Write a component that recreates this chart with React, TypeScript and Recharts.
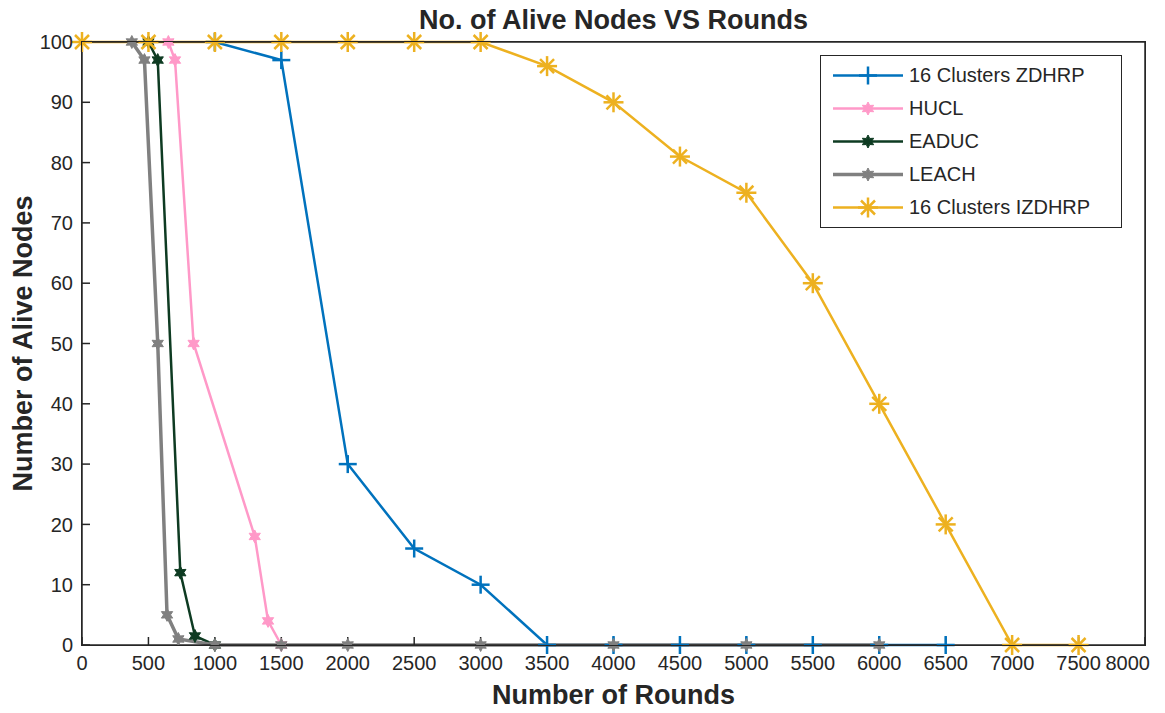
import React from "react";
import { LineChart, Line, XAxis, YAxis, Label } from "recharts";

const FONT = '"Liberation Sans", Arial, Helvetica, sans-serif';
const INK = "#262626";

// x axis (rounds) and y axis (alive nodes) ticks
const ROUND_TICKS = [0, 500, 1000, 1500, 2000, 2500, 3000, 3500, 4000, 4500, 5000, 5500, 6000, 6500, 7000, 7500, 8000];
const ALIVE_TICKS = [0, 10, 20, 30, 40, 50, 60, 70, 80, 90, 100];

// 16 Clusters ZDHRP
const ZDHRP_ROUNDS = [1000, 1500, 2000, 2500, 3000, 3500, 4000, 4500, 5000, 5500, 6000, 6500];
const ZDHRP_ALIVE = [100, 97, 30, 16, 10, 0, 0, 0, 0, 0, 0, 0];

// HUCL
const HUCL_ROUNDS = [650, 700, 840, 1300, 1400, 1500];
const HUCL_ALIVE = [100, 97, 50, 18, 4, 0];

// EADUC
const EADUC_ROUNDS = [500, 570, 740, 850, 1000];
const EADUC_ALIVE = [100, 97, 12, 1.5, 0];

// LEACH
const LEACH_ROUNDS = [375, 470, 570, 640, 725, 1000, 1500, 2000, 3000, 4000, 5000, 6000];
const LEACH_ALIVE = [100, 97, 50, 5, 1, 0, 0, 0, 0, 0, 0, 0];

// 16 Clusters IZDHRP
const IZDHRP_ROUNDS = [0, 500, 1000, 1500, 2000, 2500, 3000, 3500, 4000, 4500, 5000, 5500, 6000, 6500, 7000, 7500];
const IZDHRP_ALIVE = [100, 100, 100, 100, 100, 100, 100, 96, 90, 81, 75, 60, 40, 20, 0, 0];

type MarkerKind = "plus" | "hexagram" | "asterisk";

const toPoints = (rounds: number[], alive: number[]) =>
  rounds.map((r, i) => ({ rounds: r, alive: alive[i] }));

const SERIES = [
  { name: "16 Clusters ZDHRP", color: "#0072BD", width: 2.5, marker: "plus" as MarkerKind, data: toPoints(ZDHRP_ROUNDS, ZDHRP_ALIVE) },
  { name: "HUCL", color: "#FF99C8", width: 2.5, marker: "hexagram" as MarkerKind, data: toPoints(HUCL_ROUNDS, HUCL_ALIVE) },
  { name: "EADUC", color: "#0E3B22", width: 2.5, marker: "hexagram" as MarkerKind, data: toPoints(EADUC_ROUNDS, EADUC_ALIVE) },
  { name: "LEACH", color: "#808080", width: 3.5, marker: "hexagram" as MarkerKind, data: toPoints(LEACH_ROUNDS, LEACH_ALIVE) },
  { name: "16 Clusters IZDHRP", color: "#EDB120", width: 2.5, marker: "asterisk" as MarkerKind, data: toPoints(IZDHRP_ROUNDS, IZDHRP_ALIVE) },
];

// chart frame sizes (the wrapper is pulled up over the body margin)
const CHART_W = 1157;
const CHART_H = 713;
const Y_AXIS_W = 74;
const RIGHT_W = 12;
const RIGHT_PAD = 8;
const TOP_H = 42;
const BOTTOM_H = 68;

function hexagramPath(cx: number, cy: number, outer: number, inner: number) {
  const pts: string[] = [];
  for (let i = 0; i < 12; i++) {
    const a = ((-90 + i * 30) * Math.PI) / 180;
    const r = i % 2 === 0 ? outer : inner;
    pts.push(`${(cx + r * Math.cos(a)).toFixed(2)},${(cy + r * Math.sin(a)).toFixed(2)}`);
  }
  return `M${pts.join("L")}Z`;
}

function Marker({ kind, color, cx, cy }: { kind: MarkerKind; color: string; cx: number; cy: number }) {
  if (cx == null || cy == null) return null;
  if (kind === "plus") {
    return (
      <g stroke={color} strokeWidth={2.5}>
        <line x1={cx - 9} y1={cy} x2={cx + 9} y2={cy} />
        <line x1={cx} y1={cy - 9} x2={cx} y2={cy + 9} />
      </g>
    );
  }
  if (kind === "asterisk") {
    return (
      <g stroke={color} strokeWidth={2.5}>
        <line x1={cx - 10} y1={cy} x2={cx + 10} y2={cy} />
        <line x1={cx} y1={cy - 10} x2={cx} y2={cy + 10} />
        <line x1={cx - 7} y1={cy - 7} x2={cx + 7} y2={cy + 7} />
        <line x1={cx - 7} y1={cy + 7} x2={cx + 7} y2={cy - 7} />
      </g>
    );
  }
  return <path d={hexagramPath(cx, cy, 6.5, 3.5)} fill={color} stroke={color} strokeWidth={1} />;
}

// last x label sits left of its tick so it stays inside the window
function RoundTick(props: any) {
  const { x, y, payload, index } = props;
  const last = index === ROUND_TICKS.length - 1;
  return (
    <text
      x={last ? x + 5 : x}
      y={y}
      dy="0.71em"
      textAnchor={last ? "end" : "middle"}
      fontFamily={FONT}
      fontSize={20}
      fill={INK}
    >
      {payload.value}
    </text>
  );
}

function LegendBox() {
  return (
    <div
      style={{
        position: "absolute",
        left: 812,
        top: 55,
        width: 300,
        padding: "3px 0",
        border: `1.5px solid ${INK}`,
        background: "#fff",
        fontFamily: FONT,
        fontSize: 20,
        color: INK,
      }}
    >
      {SERIES.map((s) => (
        <div key={s.name} style={{ display: "flex", alignItems: "center", height: 33 }}>
          <svg width={88} height={33} style={{ flex: "none" }}>
            <line x1={12} x2={82} y1={16.5} y2={16.5} stroke={s.color} strokeWidth={s.width} />
            <Marker kind={s.marker} color={s.color} cx={47} cy={16.5} />
          </svg>
          <span style={{ whiteSpace: "nowrap" }}>{s.name}</span>
        </div>
      ))}
    </div>
  );
}

const tickStyle = { fontFamily: FONT, fontSize: 20, fill: INK };
const labelStyle = { fontFamily: FONT, fontSize: 27, fontWeight: 700, fill: INK };
const axisLineStyle = { stroke: INK, strokeWidth: 1.5 };

export default function App() {
  return (
    <div style={{ position: "relative", width: CHART_W, height: CHART_H, marginTop: -8 }}>
      <LineChart
        width={CHART_W}
        height={CHART_H}
        margin={{ top: 0, right: RIGHT_PAD, bottom: 0, left: 0 }}
        style={{ overflow: "visible" }}
      >
        <XAxis
          dataKey="rounds"
          type="number"
          domain={[0, 8000]}
          ticks={ROUND_TICKS}
          interval={0}
          height={BOTTOM_H}
          tickSize={-8}
          tickMargin={19}
          tick={<RoundTick />}
          axisLine={axisLineStyle}
          tickLine={axisLineStyle}
        >
          <Label value="Number of Rounds" position="insideBottom" offset={9} style={labelStyle} />
        </XAxis>
        <XAxis
          xAxisId="top"
          orientation="top"
          type="number"
          domain={[0, 8000]}
          ticks={ROUND_TICKS}
          interval={0}
          height={TOP_H}
          tickSize={-8}
          tick={false}
          axisLine={axisLineStyle}
          tickLine={axisLineStyle}
        >
          <Label value="No. of Alive Nodes VS Rounds" position="insideTop" offset={10} style={labelStyle} />
        </XAxis>
        <YAxis
          type="number"
          domain={[0, 100]}
          ticks={ALIVE_TICKS}
          interval={0}
          width={Y_AXIS_W}
          tickSize={-8}
          tickMargin={17}
          tick={tickStyle}
          axisLine={axisLineStyle}
          tickLine={axisLineStyle}
        >
          <Label
            value="Number of Alive Nodes"
            angle={-90}
            position="insideLeft"
            offset={14}
            style={{ ...labelStyle, textAnchor: "middle" }}
          />
        </YAxis>
        <YAxis
          yAxisId="right"
          orientation="right"
          type="number"
          domain={[0, 100]}
          ticks={ALIVE_TICKS}
          interval={0}
          width={RIGHT_W}
          tickSize={-8}
          tick={false}
          axisLine={axisLineStyle}
          tickLine={axisLineStyle}
        />
        {SERIES.map((s) => (
          <Line
            key={s.name}
            data={s.data}
            dataKey="alive"
            name={s.name}
            type="linear"
            stroke={s.color}
            strokeWidth={s.width}
            isAnimationActive={false}
            activeDot={false}
            dot={(p: any) => (
              <Marker key={`${s.name}-${p.index}`} kind={s.marker} color={s.color} cx={p.cx} cy={p.cy} />
            )}
          />
        ))}
      </LineChart>
      {/* axes box drawn over the series, as in the original figure */}
      <div
        style={{
          position: "absolute",
          left: Y_AXIS_W - 0.75,
          top: TOP_H - 0.75,
          width: CHART_W - RIGHT_PAD - RIGHT_W - Y_AXIS_W,
          height: CHART_H - TOP_H - BOTTOM_H,
          border: `1.5px solid ${INK}`,
          pointerEvents: "none",
        }}
      />
      <LegendBox />
    </div>
  );
}
